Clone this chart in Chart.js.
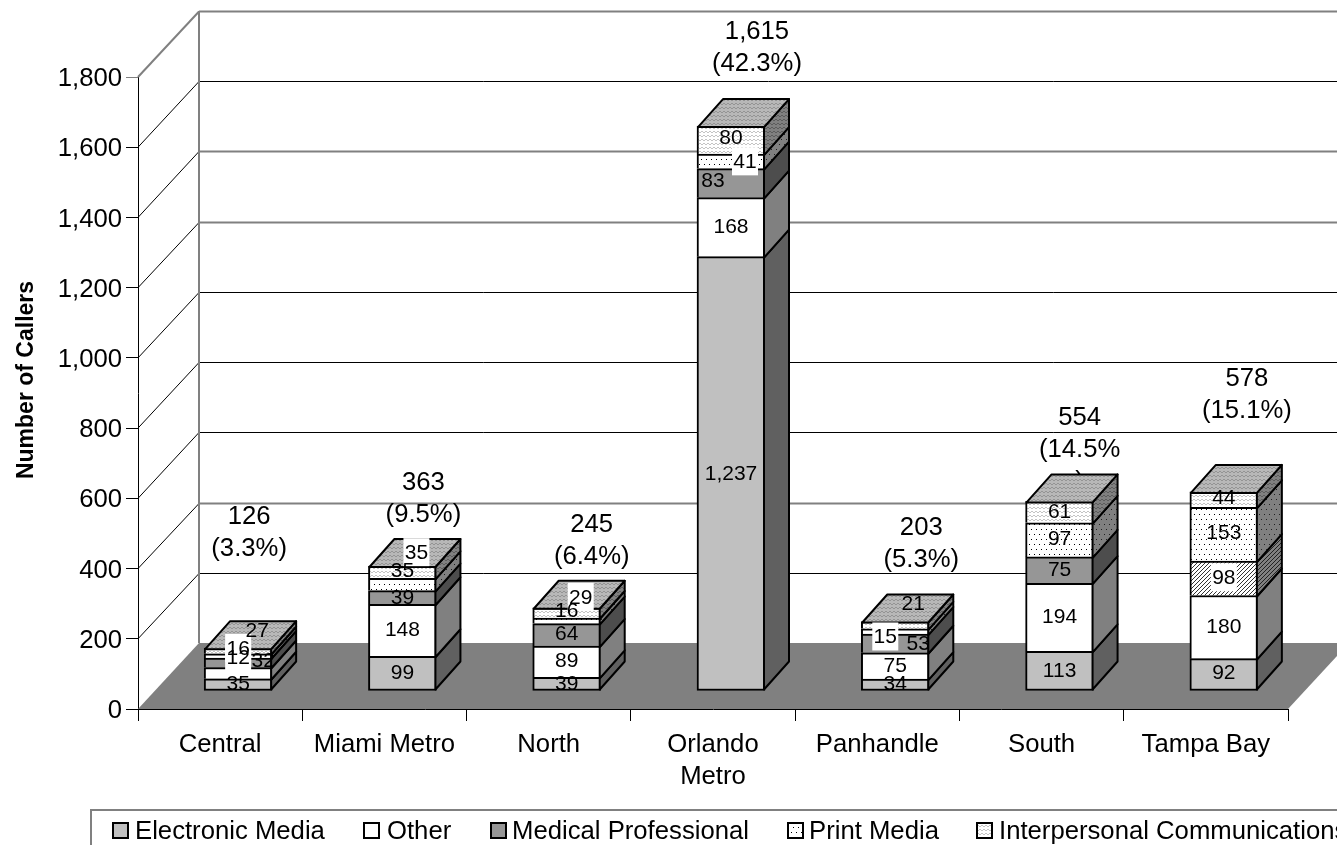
<!DOCTYPE html>
<html>
<head>
<meta charset="utf-8">
<title>Number of Callers by Region</title>
<script src="https://cdn.jsdelivr.net/npm/chart.js@4"></script>
<style>
  html, body { margin: 0; padding: 0; background: #fff; overflow: hidden; }
  #wrap { width: 1337px; height: 845px; }
</style>
</head>
<body>
<div id="wrap"><canvas id="callers" width="1337" height="845"></canvas></div>
<script>
const categories = ['Central', 'Miami Metro', 'North', ['Orlando', 'Metro'], 'Panhandle', 'South', 'Tampa Bay'];
const seriesNames = ['Electronic Media', 'Other', 'Medical Professional', 'Print Media', 'Interpersonal Communications'];
const electronic = [35, 99, 39, 1237, 34, 113, 92];
const other = [32, 148, 89, 168, 75, 194, 180];
const medical = [27, 39, 64, 83, 53, 75, 98];
const print = [12, 35, 16, 41, 15, 97, 153];
const interpersonal = [16, 35, 29, 80, 21, 61, 44];
const totals = ['126', '363', '245', '1,615', '203', '554', '578'];
const shares = [['(3.3%)'], ['(9.5%)'], ['(6.4%)'], ['(42.3%)'], ['(5.3%)'], ['(14.5%', ')'], ['(15.1%)']];

// label nudges from the centre of each segment: [dx, dy, whiteBox], by series then category
const labelNudge = [
  [[0,-1], [0,-1], [0,-1], [0,0], [0,-2], [0,-1], [0,-2]],
  [[25,-13], [0,-1], [0,-1], [0,-1], [0,-1], [0,-1], [0,-1]],
  [[19,-33], [0,0], [0,-2], [-18,-3], [23,0], [0,-1], [0,-1,1]],
  [[0,1,1], [0,-14], [0,-11], [14,0,1], [-10,5,1], [0,-2], [0,-2]],
  [[0,-3,1], [14,-20,1], [14,-16,1], [0,-3], [18,-22], [0,-1], [0,-2]]
];
// total label placement from the top of each stack: [dx, dy]
const totalNudge = [[11,-131], [21,-83], [25,-83], [26,-94], [26,-94], [20,-83], [23,-113]];
// wall lines that come out grey rather than black
const greyWallLines = [1800, 1400, 1200, 400];
const legendSlots = [[112, 135], [363, 387], [490, 512], [787, 809], [976, 999]];

const FONT = '"Liberation Sans", Arial, sans-serif';
const TEXT_SIZE = 25.7;
const WALL = { dx: 61, dy: -66 };
const BAR_SHIFT = { dx: 18, dy: -18 };
const DEPTH = { dx: 25, dy: -28 };
const GREY = '#808080';

function tile(w, h, bg, paint) {
  const c = document.createElement('canvas');
  c.width = w; c.height = h;
  const g = c.getContext('2d');
  g.fillStyle = bg;
  g.fillRect(0, 0, w, h);
  paint(g);
  return g.createPattern(c, 'repeat');
}
function dots(bg, ink) {
  return tile(5, 10, bg, g => {
    g.fillStyle = ink;
    g.fillRect(1, 2, 1, 1);
    g.fillRect(3, 7, 1, 1);
  });
}
function waves(bg, ink) {
  return tile(8, 8, bg, g => {
    g.strokeStyle = ink;
    g.lineWidth = 1;
    g.beginPath();
    g.moveTo(0, 3); g.lineTo(2, 1); g.lineTo(4, 3); g.lineTo(6, 1); g.lineTo(8, 3);
    g.moveTo(-2, 7); g.lineTo(0, 5); g.lineTo(2, 7); g.lineTo(4, 5); g.lineTo(6, 7); g.lineTo(8, 5);
    g.stroke();
  });
}
function hatch(bg, ink) {
  return tile(4, 4, bg, g => {
    g.strokeStyle = ink;
    g.lineWidth = 1;
    g.beginPath();
    g.moveTo(-1, 5); g.lineTo(5, -1);
    g.moveTo(-3, 3); g.lineTo(3, -3);
    g.moveTo(1, 7); g.lineTo(7, 1);
    g.stroke();
  });
}

const frontFills = ['#c0c0c0', '#ffffff', '#969696', dots('#ffffff', '#000000'), waves('#ffffff', '#c4c4c4')];
const sideFills = ['#606060', '#808080', '#4d4d4d', dots('#808080', '#202020'), waves('#808080', '#5c5c5c')];
const topFill = waves('#b8b8b8', '#949494');
const tampaFront = hatch('#ffffff', '#333333');
const tampaSide = hatch('#808080', '#222222');
const TAMPA = 6;

const values = [electronic, other, medical, print, interpersonal];

const scene3d = {
  id: 'scene3d',
  beforeDatasetsDraw(chart) {
    const { ctx, chartArea: a, scales: { y } } = chart;
    const backY = v => y.getPixelForValue(v) + WALL.dy;
    ctx.save();
    // floor
    ctx.fillStyle = GREY;
    ctx.beginPath();
    ctx.moveTo(a.left, a.bottom);
    ctx.lineTo(a.right, a.bottom);
    ctx.lineTo(a.right + WALL.dx, a.bottom + WALL.dy);
    ctx.lineTo(a.left + WALL.dx, a.bottom + WALL.dy);
    ctx.closePath();
    ctx.fill();
    // wall lines and the diagonals running back from the value axis
    y.ticks.forEach(t => {
      if (t.value === 0) return;
      const grey = greyWallLines.includes(t.value);
      const top = t.value === y.max;
      ctx.strokeStyle = grey ? GREY : '#000';
      ctx.lineWidth = grey ? 2 : 1;
      const py = Math.round(backY(t.value)) + 0.5;
      ctx.beginPath();
      ctx.moveTo(a.left + WALL.dx, py);
      ctx.lineTo(a.right + WALL.dx, py);
      ctx.stroke();
      ctx.strokeStyle = top ? GREY : '#000';
      ctx.lineWidth = top ? 2 : 1;
      ctx.beginPath();
      ctx.moveTo(a.left, y.getPixelForValue(t.value));
      ctx.lineTo(a.left + WALL.dx, py);
      ctx.stroke();
    });
    ctx.strokeStyle = GREY;
    ctx.lineWidth = 2;
    ctx.beginPath();
    ctx.moveTo(a.left + WALL.dx, backY(y.max));
    ctx.lineTo(a.left + WALL.dx, backY(0));
    ctx.stroke();
    ctx.restore();

    // totals sit behind the bars
    ctx.save();
    ctx.font = TEXT_SIZE + 'px ' + FONT;
    ctx.fillStyle = '#000';
    ctx.textAlign = 'center';
    ctx.textBaseline = 'middle';
    const last = chart.getDatasetMeta(values.length - 1).data;
    totals.forEach((text, i) => {
      const bar = last[i];
      const x = bar.x + BAR_SHIFT.dx + totalNudge[i][0];
      const py = bar.y + BAR_SHIFT.dy + totalNudge[i][1];
      [text, ...shares[i]].forEach((line, k) => ctx.fillText(line, x, py + k * 32));
    });
    ctx.restore();

    ctx.save();
    ctx.translate(BAR_SHIFT.dx, BAR_SHIFT.dy);
  },
  afterDatasetsDraw(chart) {
    const { ctx } = chart;
    ctx.lineWidth = 2;
    ctx.lineJoin = 'round';
    ctx.strokeStyle = '#000';
    // right-hand faces and the lid of each stack
    values.forEach((_, s) => {
      chart.getDatasetMeta(s).data.forEach((bar, i) => {
        const r = bar.x + bar.width / 2 - 1;
        const l = bar.x - bar.width / 2 + 1;
        const top = bar.y + 1;
        const base = s === 0 ? bar.base - 1 : bar.base + 1;
        ctx.fillStyle = s === 2 && i === TAMPA ? tampaSide : sideFills[s];
        ctx.beginPath();
        ctx.moveTo(r, top);
        ctx.lineTo(r + DEPTH.dx, top + DEPTH.dy);
        ctx.lineTo(r + DEPTH.dx, base + DEPTH.dy);
        ctx.lineTo(r, base);
        ctx.closePath();
        ctx.fill();
        ctx.stroke();
        if (s === values.length - 1) {
          ctx.fillStyle = topFill;
          ctx.beginPath();
          ctx.moveTo(l, top);
          ctx.lineTo(l + DEPTH.dx, top + DEPTH.dy);
          ctx.lineTo(r + DEPTH.dx, top + DEPTH.dy);
          ctx.lineTo(r, top);
          ctx.closePath();
          ctx.fill();
          ctx.stroke();
        }
      });
    });
    // segment values: white boxes first so overlapping numbers both stay readable
    const placed = [];
    values.forEach((series, s) => {
      chart.getDatasetMeta(s).data.forEach((bar, i) => {
        const n = labelNudge[s][i];
        placed.push({
          text: series[i].toLocaleString('en-US'),
          x: bar.x + n[0],
          y: (bar.y + bar.base) / 2 + n[1],
          box: n[2]
        });
      });
    });
    ctx.fillStyle = '#fff';
    placed.filter(p => p.box).forEach(p => ctx.fillRect(p.x - 13, p.y - 14, 26, 28));
    ctx.font = '21px ' + FONT;
    ctx.textAlign = 'center';
    ctx.textBaseline = 'middle';
    ctx.fillStyle = '#000';
    placed.forEach(p => ctx.fillText(p.text, p.x, p.y + 1));
    ctx.restore();
  },
  afterDraw(chart) {
    const { ctx } = chart;
    ctx.save();
    // axis title, centred a little above the middle of the plot
    ctx.translate(27, 380);
    ctx.rotate(-Math.PI / 2);
    ctx.font = 'bold 23px ' + FONT;
    ctx.fillStyle = '#000';
    ctx.textAlign = 'center';
    ctx.textBaseline = 'middle';
    ctx.fillText('Number of Callers', 0, 0);
    ctx.restore();

    // legend strip, running off the bottom and right of the page
    ctx.save();
    ctx.strokeStyle = GREY;
    ctx.lineWidth = 2;
    ctx.beginPath();
    ctx.moveTo(91, 846);
    ctx.lineTo(91, 810);
    ctx.lineTo(1338, 810);
    ctx.stroke();
    ctx.font = TEXT_SIZE + 'px ' + FONT;
    ctx.textBaseline = 'middle';
    seriesNames.forEach((name, s) => {
      const [sx, tx] = legendSlots[s];
      ctx.fillStyle = frontFills[s];
      ctx.fillRect(sx + 1, 823, 15, 15);
      ctx.strokeStyle = '#000';
      ctx.lineWidth = 2;
      ctx.strokeRect(sx + 1, 823, 15, 15);
      ctx.fillStyle = '#000';
      ctx.fillText(name, tx, 832);
    });
    ctx.restore();
  }
};

new Chart(document.getElementById('callers'), {
  type: 'bar',
  data: {
    labels: categories,
    datasets: values.map((series, s) => ({
      label: seriesNames[s],
      data: series,
      backgroundColor: c => (s === 2 && c.dataIndex === TAMPA ? tampaFront : frontFills[s]),
      borderColor: '#000',
      borderWidth: 2,
      borderSkipped: s === 0 ? false : 'start',
      barThickness: 68,
      clip: false
    }))
  },
  options: {
    responsive: false,
    animation: false,
    layout: { padding: { top: 77, right: 49, left: 0, bottom: 0 } },
    plugins: { legend: { display: false }, tooltip: { enabled: false } },
    scales: {
      x: {
        stacked: true,
        afterFit: s => { s.height = 136; },
        grid: { drawOnChartArea: false, tickLength: 12, color: '#000' },
        border: { color: '#000' },
        ticks: {
          color: '#000', padding: 8, maxRotation: 0, autoSkip: false,
          font: { family: FONT, size: TEXT_SIZE, lineHeight: 1.25 }
        }
      },
      y: {
        stacked: true,
        min: 0,
        max: 1800,
        afterFit: s => { s.width = 138; },
        grid: {
          drawOnChartArea: false,
          tickLength: 12,
          tickColor: c => (c.tick && c.tick.value === 1800 ? GREY : '#000')
        },
        border: { color: '#000' },
        ticks: {
          stepSize: 200,
          color: '#000',
          padding: 4,
          labelOffset: 2,
          font: { family: FONT, size: TEXT_SIZE },
          callback: v => v.toLocaleString('en-US')
        }
      }
    }
  },
  plugins: [scene3d]
});
</script>
</body>
</html>
